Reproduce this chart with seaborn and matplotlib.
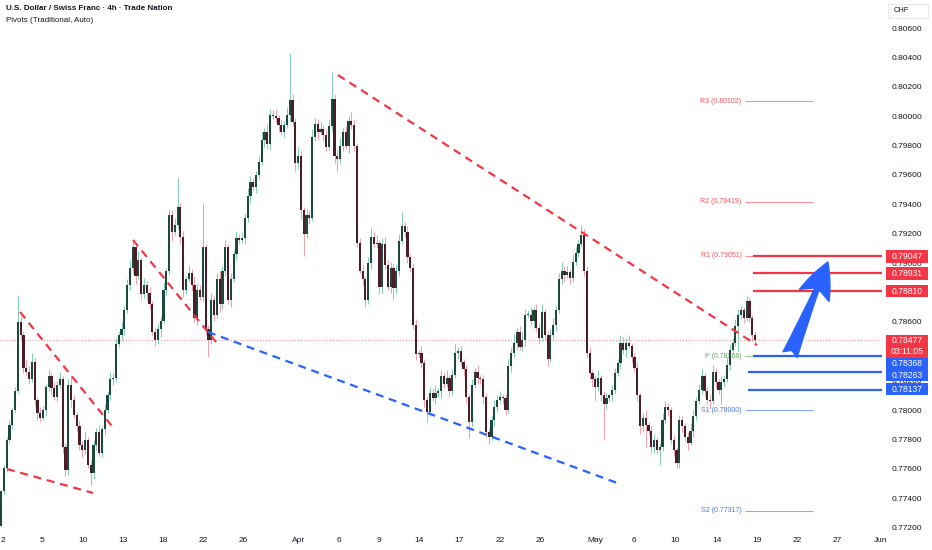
import matplotlib
matplotlib.use("Agg")
import matplotlib.pyplot as plt
import matplotlib.transforms as mtransforms
from matplotlib.patches import Rectangle
import numpy as np
import pandas as pd
import seaborn as sns

# 4h candles, USD/CHF (open of the first candle, then each close)
first_open = 0.7721
close_prices = [
    # early March
    0.7745, 0.7761, 0.7780, 0.7790, 0.7800, 0.7813, 0.7860, 0.7851, 0.7829, 0.7826,
    0.7821, 0.7833, 0.7807, 0.7798, 0.7795, 0.7800, 0.7816, 0.7823, 0.7815, 0.7809,
    0.7817, 0.7821, 0.7775, 0.7759, 0.7817, 0.7807, 0.7797, 0.7789, 0.7776, 0.7773,
    0.7780, 0.7763, 0.7757, 0.7776, 0.7785, 0.7771, 0.7787, 0.7800, 0.7810, 0.7821,
    0.7822, 0.7845, 0.7851, 0.7855, 0.7868, 0.7885,
    # mid / late March
    0.7897, 0.7911, 0.7891, 0.7902, 0.7879, 0.7885, 0.7880, 0.7872, 0.7853, 0.7848,
    0.7855, 0.7861, 0.7882, 0.7895, 0.7933, 0.7921, 0.7926, 0.7938, 0.7918, 0.7882,
    0.7889, 0.7893, 0.7885, 0.7863, 0.7882, 0.7877, 0.7911, 0.7855, 0.7848, 0.7875,
    0.7865, 0.7889, 0.7872, 0.7895, 0.7911, 0.7875, 0.7889, 0.7906, 0.7917, 0.7916,
    0.7917, 0.7931, 0.7946, 0.7955, 0.7952,
    # late March / early April top
    0.7960, 0.7969, 0.7984, 0.7989, 0.7981, 0.8001, 0.8000, 0.7999, 0.7994, 0.7989,
    0.7994, 0.8001, 0.8011, 0.7996, 0.7968, 0.7973, 0.7936, 0.7920, 0.7933, 0.7931,
    0.7986, 0.7995, 0.7989, 0.7991, 0.7987, 0.7979, 0.7993, 0.8012, 0.7973, 0.7971,
    0.7980, 0.7989, 0.7980, 0.7997, 0.7994, 0.7980, 0.7914, 0.7895, 0.7889, 0.7875,
    0.7900, 0.7918, 0.7913, 0.7914, 0.7884, 0.7913, 0.7899, 0.7884, 0.7897, 0.7883,
    0.7895, 0.7915, 0.7925, 0.7921, 0.7904, 0.7897,
    # April drop and base
    0.7858, 0.7838, 0.7839, 0.7832, 0.7807, 0.7799, 0.7812, 0.7808, 0.7812, 0.7813,
    0.7823, 0.7818, 0.7822, 0.7813, 0.7824, 0.7839, 0.7840, 0.7833, 0.7828, 0.7809,
    0.7792, 0.7817, 0.7826, 0.7822, 0.7821, 0.7809, 0.7785, 0.7782, 0.7793, 0.7802,
    0.7807, 0.7809, 0.7808, 0.7800, 0.7830, 0.7839, 0.7846, 0.7853, 0.7843, 0.7848,
    0.7865, 0.7865, 0.7861, 0.7868, 0.7856, 0.7849, 0.7867, 0.7851, 0.7835, 0.7851,
    0.7858, 0.7868, 0.7889, 0.7895, 0.7892, 0.7894, 0.7890, 0.7901, 0.7907, 0.7913,
    0.7919, 0.7895,
    # May
    0.7839, 0.7825, 0.7821, 0.7816, 0.7822, 0.7810, 0.7804, 0.7808, 0.7810, 0.7814,
    0.7825, 0.7832, 0.7846, 0.7841, 0.7846, 0.7844, 0.7836, 0.7829, 0.7810, 0.7789,
    0.7795, 0.7790, 0.7786, 0.7775, 0.7780, 0.7773, 0.7775, 0.7793, 0.7802, 0.7800,
    0.7780, 0.7773, 0.7764,
    # mid May rally
    0.7793, 0.7789, 0.7782, 0.7778, 0.7786, 0.7796, 0.7806, 0.7814, 0.7823, 0.7813,
    0.7807, 0.7806, 0.7826, 0.7819, 0.7814, 0.7819, 0.7821, 0.7831, 0.7841, 0.7846,
    0.7857, 0.7865, 0.7868, 0.7863, 0.7874, 0.7863, 0.7851, 0.78477,
]

# wick lengths in pips (0.0001) above / below each body
wick_up = [
    1, 2, 2, 3, 2, 3, 18, 4, 3, 5, 4, 6, 3, 2, 4, 3, 2, 5, 3, 4,
    3, 5, 2, 3, 4, 6, 3, 2, 4, 3, 5, 2, 3, 4, 3, 5, 2, 4, 3, 5,
    3, 4, 2, 5, 3, 4,
    5, 4, 3, 6, 2, 5, 3, 4, 2, 3, 4, 3, 5, 2, 4, 3, 5, 20, 3, 4,
    2, 5, 3, 6, 4, 3, 29, 2, 3, 5, 3, 4, 6, 3, 5, 2, 4, 3, 5, 3,
    4, 3, 5, 4, 3,
    3, 4, 5, 3, 6, 4, 3, 5, 2, 4, 3, 5, 32, 4, 3, 6, 3, 2, 4, 3,
    5, 4, 3, 5, 2, 4, 5, 18, 3, 4, 5, 3, 4, 3, 6, 4, 2, 3, 4, 2,
    4, 6, 3, 5, 2, 4, 5, 3, 4, 3, 4, 5, 10, 3, 4, 2,
    3, 4, 2, 5, 3, 2, 4, 3, 5, 2, 4, 3, 5, 2, 4, 6, 3, 4, 2, 3,
    2, 4, 3, 5, 2, 3, 2, 3, 4, 5, 3, 4, 2, 3, 5, 4, 6, 3, 4, 5,
    4, 3, 5, 2, 4, 3, 5, 2, 3, 4, 5, 3, 4, 6, 3, 4, 2, 5, 4, 3,
    7, 4,
    3, 4, 2, 3, 5, 2, 3, 4, 2, 3, 4, 3, 5, 4, 3, 5, 2, 3, 4, 2,
    3, 5, 2, 3, 4, 2, 3, 5, 4, 3, 2, 3, 2,
    4, 3, 2, 3, 5, 4, 3, 4, 5, 2, 3, 4, 5, 3, 2, 4, 3, 5, 4, 3,
    5, 4, 3, 2, 4, 3, 2, 3,
]
wick_dn = [
    0, 2, 3, 2, 3, 2, 1, 3, 4, 2, 3, 2, 4, 5, 3, 2, 4, 3, 5, 2,
    3, 2, 4, 4, 3, 5, 2, 4, 3, 5, 3, 2, 8, 4, 3, 2, 3, 4, 2, 3,
    4, 3, 2, 3, 4, 2,
    3, 4, 5, 2, 4, 3, 5, 3, 2, 4, 3, 5, 2, 4, 3, 6, 2, 3, 4, 5,
    3, 2, 4, 3, 5, 2, 3, 4, 12, 3, 4, 2, 5, 3, 4, 3, 5, 2, 4, 3,
    2, 4, 3, 5, 2,
    4, 3, 2, 5, 3, 4, 2, 3, 5, 2, 3, 2, 4, 3, 5, 4, 6, 15, 3, 4,
    2, 3, 5, 2, 4, 3, 2, 3, 5, 8, 3, 4, 2, 5, 3, 4, 3, 2, 4, 5,
    3, 4, 2, 3, 5, 4, 3, 2, 4, 8, 3, 4, 2, 3, 4, 3,
    3, 4, 2, 3, 5, 7, 3, 2, 4, 3, 5, 3, 2, 4, 3, 2, 4, 3, 5, 4,
    11, 3, 2, 4, 3, 5, 3, 5, 2, 4, 3, 2, 4, 3, 2, 4, 3, 5, 2, 3,
    4, 2, 3, 5, 3, 4, 2, 3, 5, 2, 3, 4, 2, 3, 5, 2, 4, 3, 2, 3,
    2, 4,
    3, 4, 5, 10, 3, 4, 24, 3, 2, 4, 3, 2, 4, 3, 5, 2, 4, 3, 4, 5,
    4, 15, 3, 5, 4, 3, 10, 3, 2, 4, 3, 4, 3,
    3, 4, 3, 5, 2, 4, 3, 2, 3, 4, 3, 5, 2, 4, 3, 10, 3, 2, 4, 3,
    2, 17, 3, 4, 2, 3, 4, 3,
]

# date labels on the candle axis
date_pos = [0.7, 14.6, 29.3, 43.5, 57.8, 72.1, 86.3, 106.3, 120.6, 134.9, 149.1,
            163.4, 178.0, 192.3, 211.9, 225.8, 240.5, 255.4, 269.7, 284.0, 298.2, 313.9]
date_text = ["2", "5", "10", "13", "18", "22", "26", "Apr", "6", "9", "14",
             "17", "22", "26", "May", "6", "10", "14", "19", "22", "27", "Jun"]
price_ticks = [0.772, 0.774, 0.776, 0.778, 0.780, 0.782, 0.784, 0.786, 0.788,
               0.790, 0.792, 0.794, 0.796, 0.798, 0.800, 0.802, 0.804, 0.806]
hidden_ticks = [0.784, 0.788]   # covered by the price tags on the scale

# drawn trend lines: (start index, start price, end index, end price)
red_lines = [(120.2, 0.80280, 269.7, 0.78443),
             (6.8, 0.78668, 40.7, 0.77865),
             (2.1, 0.77600, 32.8, 0.77437),
             (47.1, 0.79158, 76.7, 0.78464)]
blue_lines = [(73.8, 0.78532, 220.8, 0.77498)]

# weekly pivots
pivot_names = ["R3", "R2", "R1", "P", "S1", "S2"]
pivot_values = [0.80102, 0.79419, 0.79051, 0.78368, 0.78000, 0.77317]
pivot_start, pivot_end = 265.4, 289.7

resistance = [0.79047, 0.78931, 0.78810]
resistance_start = [268.3, 268.3, 268.3]
resistance_tag_at = [0.79047, 0.78931, 0.78810]
support = [0.78368, 0.78263, 0.78137]
support_start = [268.3, 266.5, 266.5]
support_tag_at = [0.78321, 0.78239, 0.78144]   # scale tags pushed down so they stack
last_price = 0.78477
countdown = "03:11:05"
arrow_tail = (281.5, 0.78378)
arrow_head = (295.0, 0.79008)

RED = "#f23645"
BLUE = "#2962ff"
TEXT = "#131722"
UP_BODY, DN_BODY = "#1b4a3d", "#4c1d26"
UP_WICK, DN_WICK = "#86cdb5", "#f3a0ad"
PX = 6.803e-5  # price per pixel on this scale

sns.set_theme(style="white")
plt.rcParams["font.family"] = ["Liberation Sans", "DejaVu Sans"]

fig = plt.figure(figsize=(9.32, 5.5), dpi=100)
ax = fig.add_axes([0, 17 / 550, 882 / 932, 533 / 550])

df = pd.DataFrame({"close": close_prices, "up": wick_up, "dn": wick_dn})
df["open"] = [first_open] + close_prices[:-1]
df["idx"] = np.arange(len(df))
df["top"] = df[["open", "close"]].max(axis=1)
df["bot"] = df[["open", "close"]].min(axis=1)
df["high"] = df["top"] + df["up"] * 1e-4
df["low"] = df["bot"] - df["dn"] * 1e-4
rising = (df["close"] >= df["open"]).to_numpy()

ax.vlines(df["idx"], df["low"], df["high"],
          colors=np.where(rising, UP_WICK, DN_WICK), lw=0.75, zorder=3)
ax.bar(df["idx"], (df["top"] - df["bot"]).clip(lower=0.00003), bottom=df["bot"],
       width=0.78, color=np.where(rising, UP_BODY, DN_BODY), lw=0, zorder=4)

# last price dotted line
ax.axhline(last_price, color=RED, lw=0.7, ls=(0, (1, 2)), alpha=0.6, zorder=2)

# trend lines
for lines, col in [(red_lines, RED), (blue_lines, BLUE)]:
    for x0, p0, x1, p1 in lines:
        sns.lineplot(x=[x0, x1], y=[p0, p1], ax=ax, color=col, lw=1.6,
                     linestyle=(0, (3.6, 2.6)), zorder=5)

# pivots
for name, val in zip(pivot_names, pivot_values):
    col = RED if name.startswith("R") else ("#43a047" if name == "P" else BLUE)
    ax.hlines(val, pivot_start, pivot_end, color=col, lw=0.8, alpha=0.55, zorder=2)
    ax.text(pivot_start - 1.2, val, f"{name} ({val:.5f})", color=col, alpha=0.85,
            fontsize=5, ha="right", va="center", zorder=1)

for val, x0 in zip(resistance, resistance_start):
    ax.hlines(val, x0, 314.3, color=RED, lw=1.6, zorder=6)
for val, x0 in zip(support, support_start):
    ax.hlines(val, x0, 314.3, color=BLUE, lw=1.6, zorder=6)

ax.annotate("", xy=arrow_head, xytext=arrow_tail,
            arrowprops=dict(arrowstyle="fancy,head_length=1.3,head_width=1.15,tail_width=0.55",
                            color=BLUE, shrinkA=0, shrinkB=0, mutation_scale=20),
            zorder=7)

ax.set_xlim(-0.36, 314.3)
ax.set_ylim(0.771645, 0.807905)
ax.set_xticks(date_pos)
ax.set_xticklabels(date_text)
ax.yaxis.tick_right()
ax.set_yticks(price_ticks)
ax.set_yticklabels(["" if p in hidden_ticks else f"{p:.5f}" for p in price_ticks])
ax.tick_params(axis="y", length=0, pad=7, labelsize=6, labelcolor=TEXT)
ax.tick_params(axis="x", length=0, pad=3, labelsize=6, labelcolor=TEXT)
for s in ax.spines.values():
    s.set_visible(False)
ax.grid(False)

# price tags on the right scale
tr = mtransforms.blended_transform_factory(ax.transAxes, ax.transData)
tag_x0, tag_w = 886 / 882, 42 / 882


def price_tag(center, lines, col):
    h = (2 + 10.5 * len(lines)) * PX
    ax.add_patch(Rectangle((tag_x0, center - h / 2), tag_w, h, transform=tr,
                           fc=col, ec="none", clip_on=False, zorder=10))
    ax.text(tag_x0 + tag_w / 2, center, "\n".join(lines), transform=tr, color="white",
            fontsize=6.2, ha="center", va="center", linespacing=1.25,
            clip_on=False, zorder=11)


for val, at in zip(resistance, resistance_tag_at):
    price_tag(at, [f"{val:.5f}"], RED)
for val, at in zip(support, support_tag_at):
    price_tag(at, [f"{val:.5f}"], BLUE)
price_tag(last_price - 6 * PX, [f"{last_price:.5f}", countdown], RED)

fig.patches.append(Rectangle((888 / 932, 1 - 18 / 550), 40 / 932, 14 / 550,
                             transform=fig.transFigure, fc="white", ec="#e0e3eb", lw=0.6))
fig.text(894 / 932, 1 - 11 / 550, "CHF", fontsize=5.4, color=TEXT, va="center")
fig.text(6 / 932, 1 - 8 / 550, "U.S. Dollar / Swiss Franc · 4h · Trade Nation",
         fontsize=5.8, fontweight="bold", color=TEXT, va="center")
fig.text(6 / 932, 1 - 20 / 550, "Pivots (Traditional, Auto)",
         fontsize=5.8, color=TEXT, va="center")

fig.savefig("out.png", dpi=100, facecolor="white")
